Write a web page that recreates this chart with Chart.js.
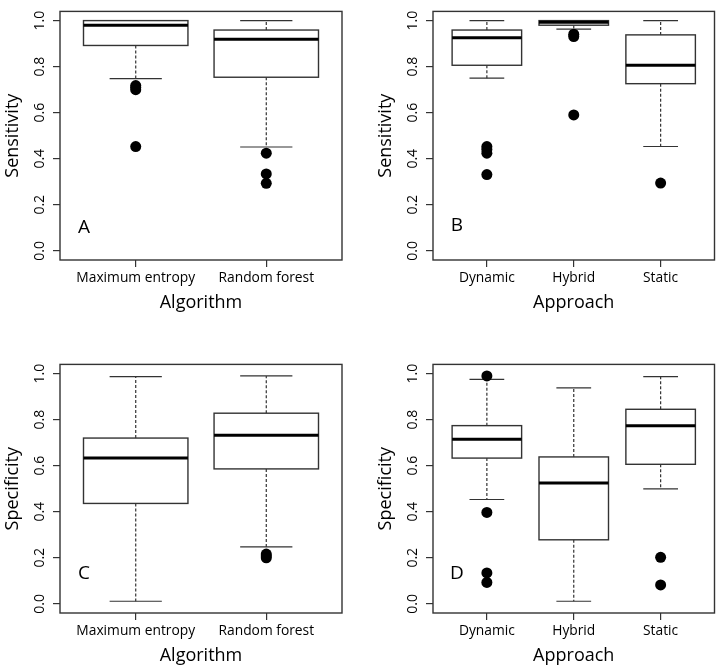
<!DOCTYPE html>
<html>
<head>
<meta charset="utf-8">
<script src="https://cdn.jsdelivr.net/npm/chart.js@4/dist/chart.umd.min.js"></script>
<style>
  body { margin: 0; background: #fff; width: 720px; height: 671px; overflow: hidden; position: relative; }
  canvas { position: absolute; }
</style>
</head>
<body>
<canvas id="panelA" width="360" height="315" style="left:0;top:0"></canvas>
<canvas id="panelB" width="347" height="315" style="left:373px;top:0"></canvas>
<canvas id="panelC" width="360" height="315" style="left:0;top:353px"></canvas>
<canvas id="panelD" width="347" height="315" style="left:373px;top:353px"></canvas>
<script>
// --- DATA ---
const algorithms = ['Maximum entropy', 'Random forest'];
const approaches = ['Dynamic', 'Hybrid', 'Static'];
const yTicks = [0, 0.2, 0.4, 0.6, 0.8, 1.0];

// each box: [lower whisker, q1, median, q3, upper whisker]
const sensAlgBoxes = [[0.748, 0.892, 0.980, 1.0, 1.0], [0.451, 0.754, 0.919, 0.959, 1.0]];
const sensAlgOutliers = [[0.718, 0.709, 0.700, 0.453], [0.424, 0.334, 0.293]];

const sensAppBoxes = [[0.750, 0.806, 0.925, 0.959, 1.0], [0.963, 0.980, 0.993, 1.0, 1.0], [0.453, 0.726, 0.806, 0.938, 1.0]];
const sensAppOutliers = [[0.453, 0.440, 0.424, 0.331], [0.941, 0.931, 0.590], [0.294]];

const specAlgBoxes = [[0.011, 0.436, 0.633, 0.720, 0.987], [0.247, 0.586, 0.732, 0.828, 0.990]];
const specAlgOutliers = [[], [0.216, 0.208, 0.200]];

const specAppBoxes = [[0.453, 0.633, 0.715, 0.774, 0.975], [0.011, 0.278, 0.525, 0.638, 0.938], [0.499, 0.606, 0.773, 0.845, 0.987]];
const specAppOutliers = [[0.990, 0.397, 0.134, 0.093], [], [0.202, 0.082]];

// --- STYLE ---
const FONT = '"Open Sans", "DejaVu Sans", sans-serif';
const LINE = '#333';

// Draws the R-style boxes, whiskers and the frame using the chart's own scales
const boxPlugin = {
    id: 'rbox',
    beforeDatasetsDraw(chart) {
        const {ctx, chartArea: a, scales: {x, y}} = chart;
        const boxes = chart.options.plugins.rbox.boxes;
        ctx.save();
        ctx.strokeStyle = LINE;
        boxes.forEach((b, i) => {
            const cx = x.getPixelForValue(i + 1);
            const bl = x.getPixelForValue(i + 1 - 0.4), br = x.getPixelForValue(i + 1 + 0.4);
            const cl = x.getPixelForValue(i + 1 - 0.2), cr = x.getPixelForValue(i + 1 + 0.2);
            const [lo, q1, med, q3, hi] = b.map(v => y.getPixelForValue(v));
            // dashed whiskers
            ctx.lineWidth = 1.2;
            ctx.setLineDash([3, 2]);
            ctx.beginPath();
            ctx.moveTo(cx, q3); ctx.lineTo(cx, hi);
            ctx.moveTo(cx, q1); ctx.lineTo(cx, lo);
            ctx.stroke();
            ctx.setLineDash([]);
            // caps
            ctx.beginPath();
            ctx.moveTo(cl, hi); ctx.lineTo(cr, hi);
            ctx.moveTo(cl, lo); ctx.lineTo(cr, lo);
            ctx.stroke();
            // box
            ctx.lineWidth = 1.4;
            ctx.fillStyle = '#fff';
            ctx.fillRect(bl, q3, br - bl, q1 - q3);
            ctx.strokeRect(bl, q3, br - bl, q1 - q3);
            // median
            ctx.lineWidth = 3;
            ctx.strokeStyle = '#000';
            ctx.beginPath();
            ctx.moveTo(bl, med); ctx.lineTo(br, med);
            ctx.stroke();
            ctx.strokeStyle = LINE;
        });
        // frame
        ctx.lineWidth = 1.4;
        ctx.strokeRect(a.left, a.top, a.right - a.left, a.bottom - a.top);
        // panel letter
        const opt = chart.options.plugins.rbox;
        ctx.fillStyle = '#000';
        ctx.font = '19px ' + FONT;
        ctx.textAlign = 'center';
        ctx.textBaseline = 'middle';
        ctx.fillText(opt.letter, a.left + 24, y.getPixelForValue(opt.letterY));
        ctx.restore();
    }
};

function makePanel(id, cats, boxes, outliers, yTitle, xTitle, letter, letterY, padRight) {
    const n = cats.length;
    const points = [];
    outliers.forEach((list, i) => list.forEach(v => points.push({x: i + 1, y: v})));

    new Chart(document.getElementById(id), {
        type: 'scatter',
        data: {
            datasets: [{
                data: points,
                pointRadius: 5.5, pointHoverRadius: 5.5,
                backgroundColor: '#000', borderColor: '#000', borderWidth: 0
            }]
        },
        options: {
            responsive: false, animation: false,
            layout: { padding: { top: 5, right: padRight, left: 0, bottom: 0 } },
            plugins: {
                legend: { display: false }, tooltip: { enabled: false },
                rbox: { boxes: boxes, letter: letter, letterY: letterY }
            },
            scales: {
                x: {
                    type: 'linear',
                    min: 0.5 - 0.04 * n, max: n + 0.5 + 0.04 * n,
                    afterBuildTicks: s => { s.ticks = cats.map((c, i) => ({ value: i + 1 })); },
                    ticks: {
                        callback: v => cats[Math.round(v) - 1],
                        autoSkip: false, maxRotation: 0,
                        font: { family: FONT, size: 13.8 }, color: '#000', padding: 3
                    },
                    grid: { drawOnChartArea: false, tickLength: 7, color: LINE, lineWidth: 1.2 },
                    border: { display: false },
                    title: { display: true, text: xTitle, color: '#000', font: { family: FONT, size: 18 }, padding: { top: 0, bottom: 1 } },
                    afterFit: s => { s.height = 55; }
                },
                y: {
                    min: -0.04, max: 1.04,
                    afterBuildTicks: s => { s.ticks = yTicks.map(v => ({ value: v })); },
                    ticks: {
                        callback: v => v.toFixed(1),
                        minRotation: 90, maxRotation: 90, crossAlign: 'center',
                        font: { family: FONT, size: 14 }, color: '#000', padding: 3
                    },
                    grid: { drawOnChartArea: false, tickLength: 7, color: LINE, lineWidth: 1.2 },
                    border: { display: false },
                    title: { display: true, text: yTitle, color: '#000', font: { family: FONT, size: 18 }, padding: { top: 2, bottom: 0 } },
                    afterFit: s => { s.width = 60; }
                }
            }
        },
        plugins: [boxPlugin]
    });
}

makePanel('panelA', algorithms, sensAlgBoxes, sensAlgOutliers, 'Sensitivity', 'Algorithm', 'A', 0.10, 18);
makePanel('panelB', approaches, sensAppBoxes, sensAppOutliers, 'Sensitivity', 'Approach', 'B', 0.11, 5);
makePanel('panelC', algorithms, specAlgBoxes, specAlgOutliers, 'Specificity', 'Algorithm', 'C', 0.13, 18);
makePanel('panelD', approaches, specAppBoxes, specAppOutliers, 'Specificity', 'Approach', 'D', 0.13, 5);
</script>
</body>
</html>
